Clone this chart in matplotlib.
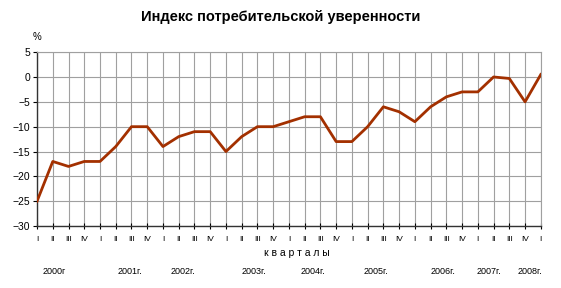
import matplotlib.pyplot as plt
import numpy as np

plt.rcParams['font.family'] = ['Liberation Sans', 'DejaVu Sans']

# quarterly values, 2000 I .. 2008 I
quarters = ['I', 'II', 'III', 'IV'] * 8 + ['I']
values = [-25, -17, -18, -17,
          -17, -14, -10, -10,
          -14, -12, -11, -11,
          -15, -12, -10, -10,
          -9, -8, -8, -13,
          -13, -10, -6, -7,
          -9, -6, -4, -3,
          -3, 0, -0.3, -5,
          0.5]
years = ['2000г', '2001г.', '2002г.', '2003г.', '2004г.', '2005г.', '2006г.', '2007г.', '2008г.']
year_pos = [1.1, 5.9, 9.3, 13.8, 17.5, 21.5, 25.8, 28.7, 31.3]

x = np.arange(len(values))

fig = plt.figure(figsize=(5.61, 2.88), dpi=100)
ax = fig.add_axes([0.066, 0.215, 0.898, 0.604])

ax.plot(x, values, color='#A33000', lw=2.0, zorder=3)

ax.set_xlim(0, len(values) - 1)
ax.set_ylim(-30, 5)
ax.set_yticks(np.arange(-30, 6, 5))
ax.set_xticks(x)
ax.set_xticklabels(quarters, fontsize=6)
ax.tick_params(axis='x', direction='inout', length=4, pad=5, colors='black')
ax.tick_params(axis='y', direction='out', length=3, labelsize=7.5, pad=2)
ax.grid(True, color='#a0a0a0', lw=0.8)
ax.set_axisbelow(True)
for s in ['top', 'right']:
    ax.spines[s].set_color('#a0a0a0')
    ax.spines[s].set_linewidth(0.8)
for s in ['left', 'bottom']:
    ax.spines[s].set_color('#333333')
    ax.spines[s].set_linewidth(1.0)

fig.text(0.5, 0.94, 'Индекс потребительской уверенности', ha='center', va='center',
         fontsize=10.5, fontweight='bold')
fig.text(0.066, 0.87, '%', ha='center', va='center', fontsize=7)
fig.text(0.53, 0.12, 'к в а р т а л ы', ha='center', va='center', fontsize=7.5)
for yp, yl in zip(year_pos, years):
    ax.text(yp, -0.26, yl, transform=ax.get_xaxis_transform(), ha='center', va='center',
            fontsize=6.5)

fig.savefig('out.png', dpi=100)
